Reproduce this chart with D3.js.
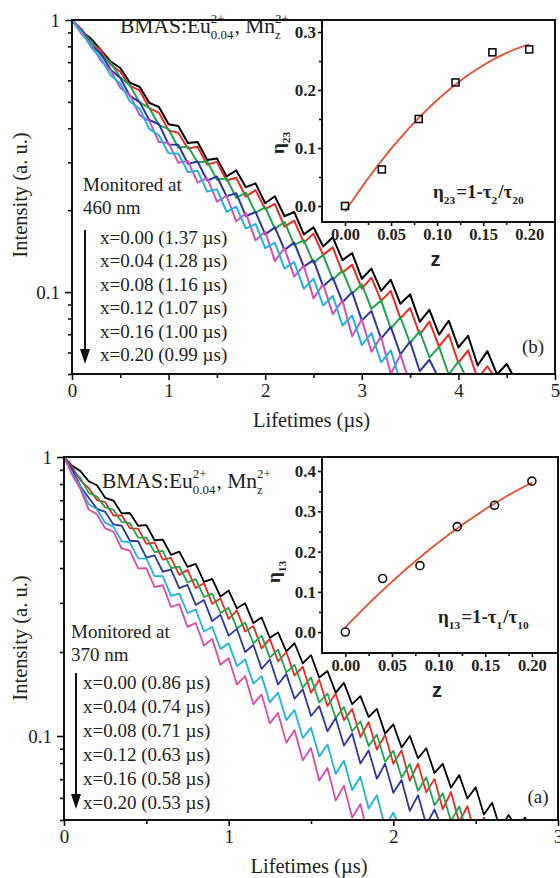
<!DOCTYPE html>
<html>
<head>
<meta charset="utf-8">
<script src="https://cdn.jsdelivr.net/npm/d3@7"></script>
<style>
  body { margin: 0; background: #fff; }
  svg { display: block; }
  text { font-family: "Liberation Serif", "Times New Roman", serif; fill: #222; }
</style>
</head>
<body>
<div id="chart"></div>
<script>
// ---- panel (b): decays monitored at 460 nm, one sample every 0.1 us ----
const stepB = 0.1;
const decayB_000 = [1, .909, .851, .774, .704, .666, .588, .568, .496, .479, .414, .408, .353, .356, .306, .310, .266, .280, .243, .251, .212, .225, .190, .197, .163, .173, .147, .159, .131, .139, .112, .122, .101, .111, .0906, .0981, .0778, .0861, .0698, .0785, .0626, .0691, .0537, .0607, .0498, .0544, .047];
const decayB_004 = [1, .923, .828, .772, .685, .646, .573, .551, .474, .456, .393, .385, .337, .342, .294, .301, .257, .263, .224, .237, .202, .211, .174, .183, .152, .164, .137, .146, .118, .126, .103, .113, .0928, .101, .0801, .0874, .0698, .0779, .0630, .0699, .0549, .0611, .0480, .0534, .047];
const decayB_008 = [1, .900, .834, .743, .697, .615, .575, .498, .475, .411, .397, .339, .343, .300, .302, .259, .262, .222, .232, .196, .205, .171, .181, .149, .155, .128, .137, .111, .120, .0986, .107, .0868, .0932, .0734, .0808, .0650, .0719, .0575, .0629, .0497, .0556, .047];
const decayB_012 = [1, .912, .807, .751, .657, .612, .526, .499, .429, .414, .349, .348, .296, .302, .257, .266, .225, .231, .190, .197, .163, .173, .143, .152, .124, .131, .105, .113, .0918, .100, .0787, .0852, .0674, .0745, .0591, .0657, .0512, .0564, .048, .044];
const decayB_016 = [1, .888, .812, .707, .653, .563, .530, .447, .426, .356, .353, .299, .303, .253, .262, .215, .226, .182, .195, .155, .167, .130, .145, .114, .125, .0948, .107, .0830, .0932, .0688, .0793, .0604, .0686, .0500, .0589, .046];
const decayB_020 = [1, .903, .792, .723, .627, .584, .502, .472, .398, .377, .324, .323, .276, .279, .234, .239, .197, .206, .171, .178, .145, .152, .122, .129, .103, .112, .0893, .0967, .0754, .0820, .0639, .0707, .0552, .0611, .0467];
const legendB = ["x=0.00 (1.37 µs)", "x=0.04 (1.28 µs)", "x=0.08 (1.16 µs)", "x=0.12 (1.07 µs)", "x=0.16 (1.00 µs)", "x=0.20 (0.99 µs)"];
const colorsB = ["#000000", "#ec2a22", "#1ea64c", "#2c37a3", "#d350b4", "#1cb4e4"];

// ---- panel (a): decays monitored at 370 nm, one sample every 0.05 us ----
const stepA = 0.05;
const decayA_000 = [1, .930, .890, .819, .792, .714, .698, .628, .630, .567, .570, .503, .506, .446, .458, .404, .414, .357, .366, .316, .332, .287, .299, .254, .266, .225, .235, .201, .215, .182, .195, .162, .171, .143, .155, .130, .139, .117, .125, .102, .110, .0910, .100, .0832, .0904, .0737, .0795, .0653, .0725, .0597, .0655, .0523, .0576, .0463, .0521, .047, .051, .045];
const decayA_004 = [1, .921, .824, .774, .701, .689, .617, .618, .555, .554, .488, .493, .429, .435, .378, .394, .339, .353, .298, .311, .263, .282, .237, .248, .206, .223, .185, .200, .165, .177, .143, .159, .128, .142, .114, .125, .0992, .112, .0894, .101, .0795, .0888, .0691, .0796, .0628, .0702, .0546, .0630, .0491, .0560, .0432, .051, .045];
const decayA_008 = [1, .903, .840, .744, .721, .660, .647, .585, .579, .514, .514, .456, .461, .400, .405, .355, .365, .315, .324, .276, .288, .243, .255, .215, .229, .191, .204, .169, .180, .149, .162, .132, .142, .116, .127, .104, .113, .0922, .101, .0809, .0886, .0710, .0794, .0637, .0711, .0565, .0624, .0496, .0559, .0444];
const decayA_012 = [1, .900, .786, .715, .652, .636, .573, .567, .501, .499, .436, .444, .388, .395, .339, .348, .295, .307, .258, .272, .229, .242, .200, .212, .174, .188, .153, .167, .136, .147, .118, .128, .104, .116, .0924, .102, .0797, .0888, .0703, .0796, .0626, .0695, .0539, .0613, .0481, .0545, .046];
const decayA_016 = [1, .872, .784, .677, .650, .581, .563, .499, .493, .433, .432, .374, .374, .318, .324, .276, .284, .237, .246, .205, .215, .178, .188, .154, .164, .132, .143, .114, .124, .0984, .107, .0844, .0932, .0732, .0815, .0641, .0714, .0550, .0613, .0472, .0532, .045];
const decayA_020 = [1, .862, .767, .648, .623, .555, .540, .470, .462, .399, .400, .342, .347, .290, .297, .246, .254, .211, .223, .180, .190, .153, .164, .130, .141, .111, .121, .0946, .105, .0818, .0905, .0693, .0768, .0588, .0664, .0510, .0570, .0432];
const legendA = ["x=0.00 (0.86 µs)", "x=0.04 (0.74 µs)", "x=0.08 (0.71 µs)", "x=0.12 (0.63 µs)", "x=0.16 (0.58 µs)", "x=0.20 (0.53 µs)"];
const colorsA = ["#000000", "#ec2a22", "#1ea64c", "#2c37a3", "#1cb4e4", "#dc4aa8"];

// ---- insets: transfer efficiency vs Mn content ----
const zValues = [0, 0.04, 0.08, 0.12, 0.16, 0.20];
const eta23 = [0, 0.063, 0.150, 0.213, 0.265, 0.270];
const eta13 = [0, 0.133, 0.165, 0.262, 0.315, 0.375];

const timeTicksB = [0, 1, 2, 3, 4, 5];
const timeTicksA = [0, 1, 2, 3];
const zTicks = [0, 0.05, 0.10, 0.15, 0.20];

const W = 560, H = 878;
const svg = d3.select("#chart").append("svg").attr("width", W).attr("height", H);

// text with stacked super/subscripts (Eu^2+_0.04 style)
function richText(parent, x, y, parts, size, weight) {
  let cx = x;
  parts.forEach(p => {
    if (p.t !== undefined) {
      const t = parent.append("text").attr("x", cx).attr("y", y)
        .attr("font-size", size).attr("font-weight", weight).text(p.t);
      cx += t.node().getComputedTextLength();
    } else {
      let w = 0;
      if (p.sup) {
        const s = parent.append("text").attr("x", cx).attr("y", y - size * 0.48)
          .attr("font-size", size * 0.6).attr("font-weight", weight).text(p.sup);
        w = Math.max(w, s.node().getComputedTextLength());
      }
      if (p.sub) {
        const s = parent.append("text").attr("x", cx).attr("y", y + size * 0.3)
          .attr("font-size", size * 0.6).attr("font-weight", weight).text(p.sub);
        w = Math.max(w, s.node().getComputedTextLength());
      }
      cx += w + 1;
    }
  });
}

function styleAxis(g, fontSize, weight) {
  g.select(".domain").remove();
  g.selectAll(".tick line").attr("stroke", "#111").attr("stroke-width", 1.6);
  g.selectAll(".tick text").attr("font-size", fontSize).attr("font-weight", weight)
    .attr("fill", "#222").style("font-family", '"Liberation Serif", serif');
}

function mainPanel(p) {
  const g = svg.append("g");
  const x = d3.scaleLinear().domain([0, p.xMax]).range([p.left, p.right]);
  const y = d3.scaleLog().domain([0.05, 1]).range([p.bottom, p.top]);

  g.append("clipPath").attr("id", p.id + "-clip").append("rect")
    .attr("x", p.left).attr("y", p.top).attr("width", p.right - p.left).attr("height", p.bottom - p.top);

  const line = d3.line().x((d, j) => x(j * p.step)).y(d => y(d));
  const traces = g.append("g").attr("clip-path", `url(#${p.id}-clip)`);
  p.series.forEach((vals, i) => {
    traces.append("path").datum(vals).attr("d", line)
      .attr("fill", "none").attr("stroke", p.colors[i])
      .attr("stroke-width", p.lineW).attr("stroke-linejoin", "round");
  });

  // x axis
  const xa = g.append("g").attr("transform", `translate(0,${p.bottom})`)
    .call(d3.axisBottom(x).tickValues(p.xTicks).tickFormat(d3.format("d")).tickSize(6).tickPadding(4));
  styleAxis(xa, 19, "normal");
  const xm = g.append("g").attr("transform", `translate(0,${p.bottom})`)
    .call(d3.axisBottom(x).tickValues(p.xTicks.slice(1).map(v => v - 0.5)).tickFormat("").tickSize(4));
  styleAxis(xm, 19, "normal");

  // y axis (log)
  const ya = g.append("g").attr("transform", `translate(${p.left},0)`)
    .call(d3.axisLeft(y).tickValues([0.1, 1]).tickFormat(d => d === 1 ? "1" : "0.1").tickSize(7).tickPadding(5));
  styleAxis(ya, 19, "normal");
  const minors = [0.05, 0.06, 0.07, 0.08, 0.09, 0.2, 0.3, 0.4, 0.5, 0.6, 0.7, 0.8, 0.9];
  const ym = g.append("g").attr("transform", `translate(${p.left},0)`)
    .call(d3.axisLeft(y).tickValues(minors).tickFormat("").tickSize(4));
  styleAxis(ym, 19, "normal");

  g.append("rect").attr("x", p.left).attr("y", p.top)
    .attr("width", p.right - p.left).attr("height", p.bottom - p.top)
    .attr("fill", "none").attr("stroke", "#111").attr("stroke-width", 2);

  g.append("text").attr("x", (p.left + p.right) / 2 - 2).attr("y", p.bottom + 53)
    .attr("text-anchor", "middle").attr("font-size", 20.5).text("Lifetimes (µs)");
  g.append("text").attr("transform", `translate(27,${p.yLabelY}) rotate(-90)`)
    .attr("text-anchor", "middle").attr("font-size", 20.5).text("Intensity (a. u.)");

  richText(g, p.titleX, p.titleY,
    [{ t: "BMAS:Eu" }, { sup: "2+", sub: "0.04" }, { t: ", Mn" }, { sup: "2+", sub: "z" }], 21.5, "normal");

  g.append("text").attr("x", p.monX).attr("y", p.monY).attr("font-size", 19).text("Monitored at");
  g.append("text").attr("x", p.monX).attr("y", p.monY + 23).attr("font-size", 19).text(p.wavelength);

  p.legend.forEach((s, i) => {
    g.append("text").attr("x", p.legX).attr("y", p.legY + i * p.legDy).attr("font-size", 19).text(s);
  });
  const ax = p.arrowX;
  g.append("line").attr("x1", ax).attr("x2", ax).attr("y1", p.arrowTop).attr("y2", p.arrowTip - 12)
    .attr("stroke", "#111").attr("stroke-width", 2);
  g.append("path").attr("d", `M${ax - 5},${p.arrowTip - 15}L${ax + 5},${p.arrowTip - 15}L${ax},${p.arrowTip}Z`)
    .attr("fill", "#111");

  g.append("text").attr("x", p.tagX).attr("y", p.tagY).attr("text-anchor", "middle")
    .attr("font-size", 19).text(p.tag);
}

// least-squares quadratic through the efficiency points
function quadFit(xs, ys) {
  const S = [0, 0, 0, 0, 0], T = [0, 0, 0];
  xs.forEach((xv, i) => {
    for (let k = 0; k < 5; k++) S[k] += Math.pow(xv, k);
    for (let k = 0; k < 3; k++) T[k] += ys[i] * Math.pow(xv, k);
  });
  const A = [[S[0], S[1], S[2]], [S[1], S[2], S[3]], [S[2], S[3], S[4]]];
  const det = m => m[0][0] * (m[1][1] * m[2][2] - m[1][2] * m[2][1])
    - m[0][1] * (m[1][0] * m[2][2] - m[1][2] * m[2][0])
    + m[0][2] * (m[1][0] * m[2][1] - m[1][1] * m[2][0]);
  const D = det(A);
  return [0, 1, 2].map(c => det(A.map((row, r) => row.map((v, k) => k === c ? T[r] : v))) / D);
}

function inset(p) {
  const g = svg.append("g");
  const x = d3.scaleLinear().domain([-0.025, 0.228]).range([p.left, p.right]);
  const y = d3.scaleLinear().domain(p.yDomain).range([p.bottom, p.top]);

  g.append("rect").attr("x", p.left).attr("y", p.top)
    .attr("width", p.right - p.left).attr("height", p.bottom - p.top)
    .attr("fill", "#fff").attr("stroke", "#111").attr("stroke-width", 2);

  const ya = g.append("g").attr("transform", `translate(${p.left},0)`)
    .call(d3.axisLeft(y).tickValues(p.yTicks).tickFormat(d3.format(".1f")).tickSize(4).tickPadding(2));
  styleAxis(ya, 17, "bold");
  const ym = g.append("g").attr("transform", `translate(${p.left},0)`)
    .call(d3.axisLeft(y).tickValues(p.yTicks.slice(1).map(v => v - 0.05)).tickFormat("").tickSize(3));
  styleAxis(ym, 16, "bold");
  const xa = g.append("g").attr("transform", `translate(0,${p.bottom})`)
    .call(d3.axisBottom(x).tickValues(zTicks).tickFormat(d3.format(".2f")).tickSize(4).tickPadding(2));
  styleAxis(xa, 16.5, "bold");
  const xm = g.append("g").attr("transform", `translate(0,${p.bottom})`)
    .call(d3.axisBottom(x).tickValues(zTicks.slice(1).map(v => v - 0.025)).tickFormat("").tickSize(3));
  styleAxis(xm, 16, "bold");

  const c = quadFit(zValues, p.values);
  const curve = d3.range(0, 0.2001, 0.004).map(z => [z, c[0] + c[1] * z + c[2] * z * z]);
  g.append("path").datum(curve)
    .attr("d", d3.line().x(d => x(d[0])).y(d => y(d[1])).curve(d3.curveBasis))
    .attr("fill", "none").attr("stroke", "#e8502c").attr("stroke-width", 1.8);

  const pts = g.selectAll(null).data(zValues.map((z, i) => [z, p.values[i]])).enter();
  if (p.marker === "square") {
    pts.append("rect").attr("x", d => x(d[0]) - 3.5).attr("y", d => y(d[1]) - 3.5)
      .attr("width", 7).attr("height", 7).attr("fill", "none").attr("stroke", "#111").attr("stroke-width", 1.6);
  } else {
    pts.append("circle").attr("cx", d => x(d[0])).attr("cy", d => y(d[1])).attr("r", 4)
      .attr("fill", "none").attr("stroke", "#111").attr("stroke-width", 1.6);
  }

  g.append("text").attr("x", (p.left + p.right) / 2 - 3).attr("y", p.bottom + 44)
    .attr("text-anchor", "middle").attr("font-size", 20).attr("font-weight", "bold")
    .style("font-family", '"Liberation Sans", Arial, sans-serif').text("z");

  // rotated eta label
  const lab = g.append("g").attr("transform", `translate(${p.etaX},${p.etaY}) rotate(-90)`);
  richText(lab, -11, 0, [{ t: "η" }, { sub: p.etaSub }], 19, "bold");

  richText(g, p.fX, p.fY,
    [{ t: "η" }, { sub: p.etaSub }, { t: "=1-τ" }, { sub: p.tauA }, { t: "/τ" }, { sub: p.tauB }], 19, "bold");
}

mainPanel({
  id: "pb", left: 72, right: 555, top: 20, bottom: 374, xMax: 5, step: stepB, lineW: 2,
  xTicks: timeTicksB, series: [decayB_000, decayB_004, decayB_008, decayB_012, decayB_016, decayB_020],
  colors: colorsB, legend: legendB, wavelength: "460 nm",
  yLabelY: 195, titleX: 120, titleY: 33, monX: 83, monY: 191,
  legX: 100, legY: 244, legDy: 23.4, arrowX: 85, arrowTop: 230, arrowTip: 364,
  tagX: 533, tagY: 353, tag: "(b)"
});

mainPanel({
  id: "pa", left: 64, right: 558, top: 457, bottom: 820, xMax: 3, step: stepA, lineW: 1.8,
  xTicks: timeTicksA, series: [decayA_000, decayA_004, decayA_008, decayA_012, decayA_016, decayA_020],
  colors: colorsA, legend: legendA, wavelength: "370 nm",
  yLabelY: 638, titleX: 102, titleY: 488, monX: 71, monY: 638,
  legX: 83, legY: 689, legDy: 24, arrowX: 76, arrowTop: 673, arrowTip: 809,
  tagX: 538, tagY: 803, tag: "(a)"
});

inset({
  left: 322, right: 555, top: 20, bottom: 222, yDomain: [-0.0276, 0.3207],
  yTicks: [0, 0.1, 0.2, 0.3], values: eta23, marker: "square",
  etaX: 284, etaY: 143, etaSub: "23", fX: 433, fY: 198, tauA: "2", tauB: "20"
});

inset({
  left: 322, right: 558, top: 457, bottom: 653, yDomain: [-0.052, 0.435],
  yTicks: [0, 0.1, 0.2, 0.3, 0.4], values: eta13, marker: "circle",
  etaX: 280, etaY: 572, etaSub: "13", fX: 438, fY: 623, tauA: "1", tauB: "10"
});
</script>
</body>
</html>
